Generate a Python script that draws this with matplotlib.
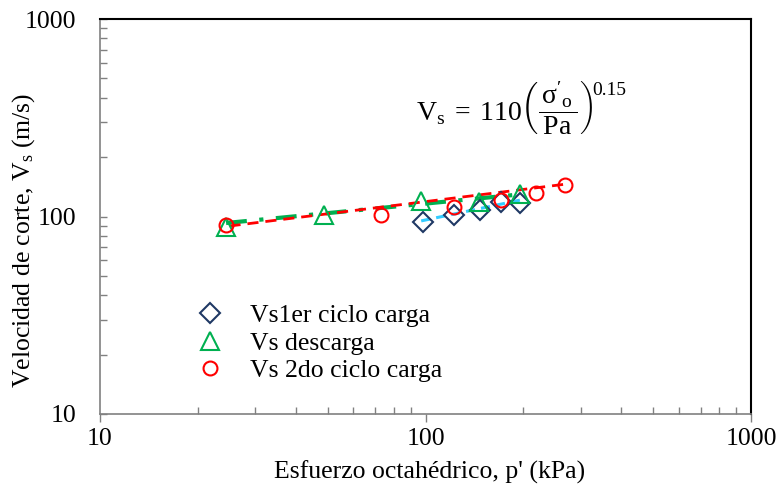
import matplotlib.pyplot as plt
from matplotlib.ticker import LogLocator, NullFormatter, FixedLocator
import numpy as np

plt.rcParams['font.family'] = ['Liberation Serif', 'DejaVu Serif']
plt.rcParams['mathtext.fontset'] = 'custom'
plt.rcParams['mathtext.rm'] = 'Liberation Serif'
plt.rcParams['mathtext.it'] = 'Liberation Serif:italic'

# ---- data ----
p_carga1 = [98, 122, 147, 171, 195]
vs_carga1 = [94, 102, 108, 119, 117]

p_descarga = [24.4, 48.6, 97, 146, 195]
vs_descarga = [88.5, 102, 120, 119, 129.5]

p_carga2 = [24.4, 73, 122, 171, 219, 268]
vs_carga2 = [90.6, 102, 112, 121, 131, 144]

# trend lines (power fits, straight on log-log: end points only)
trend_carga1_x = [97, 195]
trend_carga1_y = [95, 121]
trend_descarga_x = [24.4, 201]
trend_descarga_y = [92.7, 130]
trend_carga2_x = [25, 271]
trend_carga2_y = [89.5, 146]

labels = ['Vs1er ciclo carga', 'Vs descarga', 'Vs 2do ciclo carga']

c_blue = '#1F3864'
c_green = '#00B050'
c_red = '#FF0000'
c_light = '#33CCFF'

FS = 18.5

fig = plt.figure(figsize=(7.79, 4.95), dpi=100)
ax = fig.add_axes([100 / 779, 81 / 495, 651 / 779, 395 / 495])

# ---- trend lines ----
ax.plot(trend_carga1_x, trend_carga1_y, color=c_light, linestyle=(0, (3, 2)),
        linewidth=2.2, zorder=2)
ax.plot(trend_descarga_x, trend_descarga_y, color=c_green,
        linestyle=(0, (5, 3, 1, 3)), linewidth=3, zorder=2)
ax.plot(trend_carga2_x, trend_carga2_y, color=c_red, linestyle=(0, (4, 2.5)),
        linewidth=2, zorder=2)

# ---- measured points ----
ax.plot(p_carga1, vs_carga1, 'D', mfc='none', mec=c_blue, mew=1.5, ms=10,
        linestyle='none', label=labels[0], zorder=3)
ax.plot(p_descarga, vs_descarga, '^', mfc='none', mec=c_green, mew=1.5, ms=13,
        linestyle='none', label=labels[1], zorder=3)
ax.plot(p_carga2, vs_carga2, 'o', mfc='none', mec=c_red, mew=1.5, ms=10,
        linestyle='none', label=labels[2], zorder=3)

ax.set_xscale('log')
ax.set_yscale('log')
ax.set_xlim(10, 1000)
ax.set_ylim(10, 1000)

ax.xaxis.set_major_locator(FixedLocator([10, 100, 1000]))
ax.yaxis.set_major_locator(FixedLocator([10, 100, 1000]))
ax.set_xticklabels(['10', '100', '1000'])
ax.set_yticklabels(['10', '100', '1000'])
ax.xaxis.set_minor_locator(LogLocator(base=10, subs=np.arange(2, 10)))
ax.yaxis.set_minor_locator(LogLocator(base=10, subs=np.arange(2, 10)))
ax.xaxis.set_minor_formatter(NullFormatter())
ax.yaxis.set_minor_formatter(NullFormatter())

ax.tick_params(axis='x', which='major', direction='out', length=6, width=1,
               color='#808080', labelsize=FS, pad=4)
ax.tick_params(axis='y', which='major', direction='in', length=5, width=1,
               color='#808080', labelsize=FS, pad=17)
ax.tick_params(which='minor', direction='in', length=5, width=1,
               color='#808080')
ax.tick_params(top=False, right=False, which='both')

for s in ['bottom', 'left']:
    ax.spines[s].set_color('#808080')
    ax.spines[s].set_linewidth(1.2)
for s in ['top', 'right']:
    ax.spines[s].set_color('black')
    ax.spines[s].set_linewidth(1.5)

ax.set_xlabel("Esfuerzo octahédrico, p' (kPa)", fontsize=FS)
ax.set_ylabel(r'Velocidad de corte, V$_\mathrm{s}$ (m/s)', fontsize=FS)
ax.xaxis.set_label_coords(0.507, -0.119)
ax.yaxis.set_label_coords(-0.097, 0.44)

# equation, exponent drawn as its own text so it sits at the top of the paren
ax.text(0.486, 0.775,
        r"$\mathrm{V_s}\;=\;110\left(\dfrac{\,\mathrm{\sigma'_o}\,}{\,\mathrm{Pa}\,}\right)$",
        transform=ax.transAxes, fontsize=20, ha='left', va='center')
ax.text(0.756, 0.82, '0.15', transform=ax.transAxes, fontsize=14,
        ha='left', va='center')

ax.legend(loc='upper left', bbox_to_anchor=(0.126, 0.304), frameon=False,
          fontsize=FS, handlelength=1.4, handletextpad=0.85, labelspacing=0.17,
          borderaxespad=0)

fig.savefig('out.png', dpi=100)
